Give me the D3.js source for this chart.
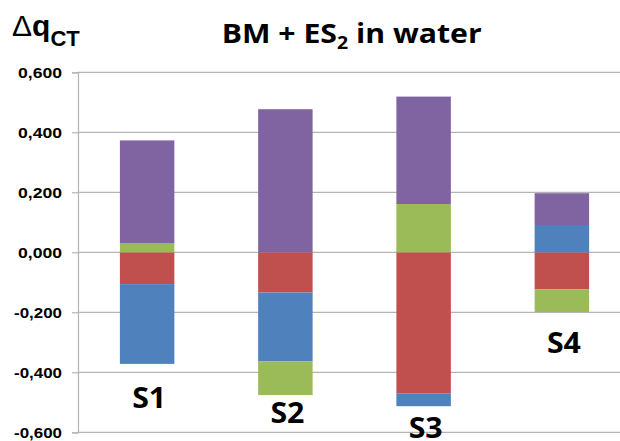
<!DOCTYPE html>
<html><head><meta charset="utf-8">
<script src="https://cdn.jsdelivr.net/npm/d3@7/dist/d3.min.js"></script>
<style>body{margin:0;background:#fff}svg{display:block}</style>
</head><body>
<svg id="c" width="620" height="441"></svg>
<script>
const categories = ["S1", "S2", "S3", "S4"];
const seriesNames = ["red", "blue", "green", "purple"];
const redValues    = [-0.106, -0.134, -0.470, -0.123];
const blueValues   = [-0.266, -0.230, -0.043,  0.091];
const greenValues  = [ 0.031, -0.112,  0.161, -0.076];
const purpleValues = [ 0.342,  0.477,  0.358,  0.106];
const yTicks = [-0.6, -0.4, -0.2, 0, 0.2, 0.4, 0.6];

const colors = {red:"#C0504D", blue:"#4F81BD", green:"#9BBB59", purple:"#8064A2"};
const labelGap = [43.6, 28, 31.4, 41];

const svals = {red:redValues, blue:blueValues, green:greenValues, purple:purpleValues};
const table = categories.map((c,i)=>{
  const o = {cat:c};
  seriesNames.forEach(s=>o[s]=svals[s][i]);
  return o;
});

const svg = d3.select("#c");
const x = d3.scaleBand().domain(categories).range([78, 631]).paddingInner(0.606).paddingOuter(0.303);
const y = d3.scaleLinear().domain([-0.6, 0.6]).range([432.3, 72.3]);

// gridlines
svg.append("g").selectAll("line").data(yTicks).join("line")
  .attr("x1", 78).attr("x2", 620)
  .attr("y1", d=>y(d)).attr("y2", d=>y(d))
  .attr("stroke", "#b4b4b4").attr("stroke-width", 1.2);

// axis
const fmt = d => d3.format(".3f")(d).replace(".", ",").replace("−","-");
const ax = svg.append("g").attr("transform","translate(78,0)")
  .call(d3.axisLeft(y).tickValues(yTicks).tickSize(6).tickPadding(10).tickFormat(fmt));
ax.select(".domain").attr("stroke","#b4b4b4").attr("stroke-width",1.2);
ax.selectAll(".tick line").attr("stroke","#b4b4b4").attr("stroke-width",1.2);
ax.selectAll(".tick text").attr("fill","#000")
  .style("font-family","'Liberation Sans', Arial, sans-serif")
  .style("font-weight","bold").style("font-size","14px")
  .attr("dy","0.36em")
  .each(function(d){ d3.select(this).attr("textLength", d<0?48:44).attr("lengthAdjust","spacingAndGlyphs"); });

// stacked bars
const stack = d3.stack().keys(seriesNames).offset(d3.stackOffsetDiverging);
const layers = stack(table);
svg.append("g").selectAll("g").data(layers).join("g")
  .attr("fill", d=>colors[d.key])
  .selectAll("rect").data(d=>d).join("rect")
  .attr("x", d=>x(d.data.cat))
  .attr("width", x.bandwidth())
  .attr("y", d=>y(Math.max(d[0],d[1])))
  .attr("height", d=>Math.abs(y(d[0])-y(d[1])));

// category labels below bars
const mins = categories.map((c,i)=>d3.min(layers, L=>Math.min(L[i][0],L[i][1])));
svg.append("g").selectAll("text").data(categories).join("text")
  .attr("x", (d)=>x(d)+x.bandwidth()/2+2)
  .attr("y", (d,i)=>y(mins[i])+labelGap[i])
  .attr("text-anchor","middle")
  .attr("textLength", 34).attr("lengthAdjust","spacingAndGlyphs")
  .style("font-family","'Open Sans', sans-serif").style("font-weight","bold").style("font-size","29px")
  .text(d=>d);

// title
const t = svg.append("text").attr("x", 351.7).attr("y", 43.3).attr("text-anchor","middle")
  .style("font-family","'Open Sans', sans-serif").style("font-weight","bold").style("font-size","26.5px")
  .attr("textLength", 260).attr("lengthAdjust","spacingAndGlyphs");
t.append("tspan").text("BM + ES");
t.append("tspan").attr("dy", 6).style("font-size","17px").text("2");
t.append("tspan").attr("dy", -6).text(" in water");

// y label Δq_CT
const yl = svg.append("text").attr("x", 12).attr("y", 36)
  .style("font-family","'Liberation Sans', Arial, sans-serif");
yl.append("tspan").style("font-size","30px").text("Δ");
yl.append("tspan").style("font-size","30px").style("font-weight","bold").text("q");
yl.append("tspan").attr("dy", 10).style("font-size","22px").style("font-weight","bold").text("CT");
</script>
</body></html>
